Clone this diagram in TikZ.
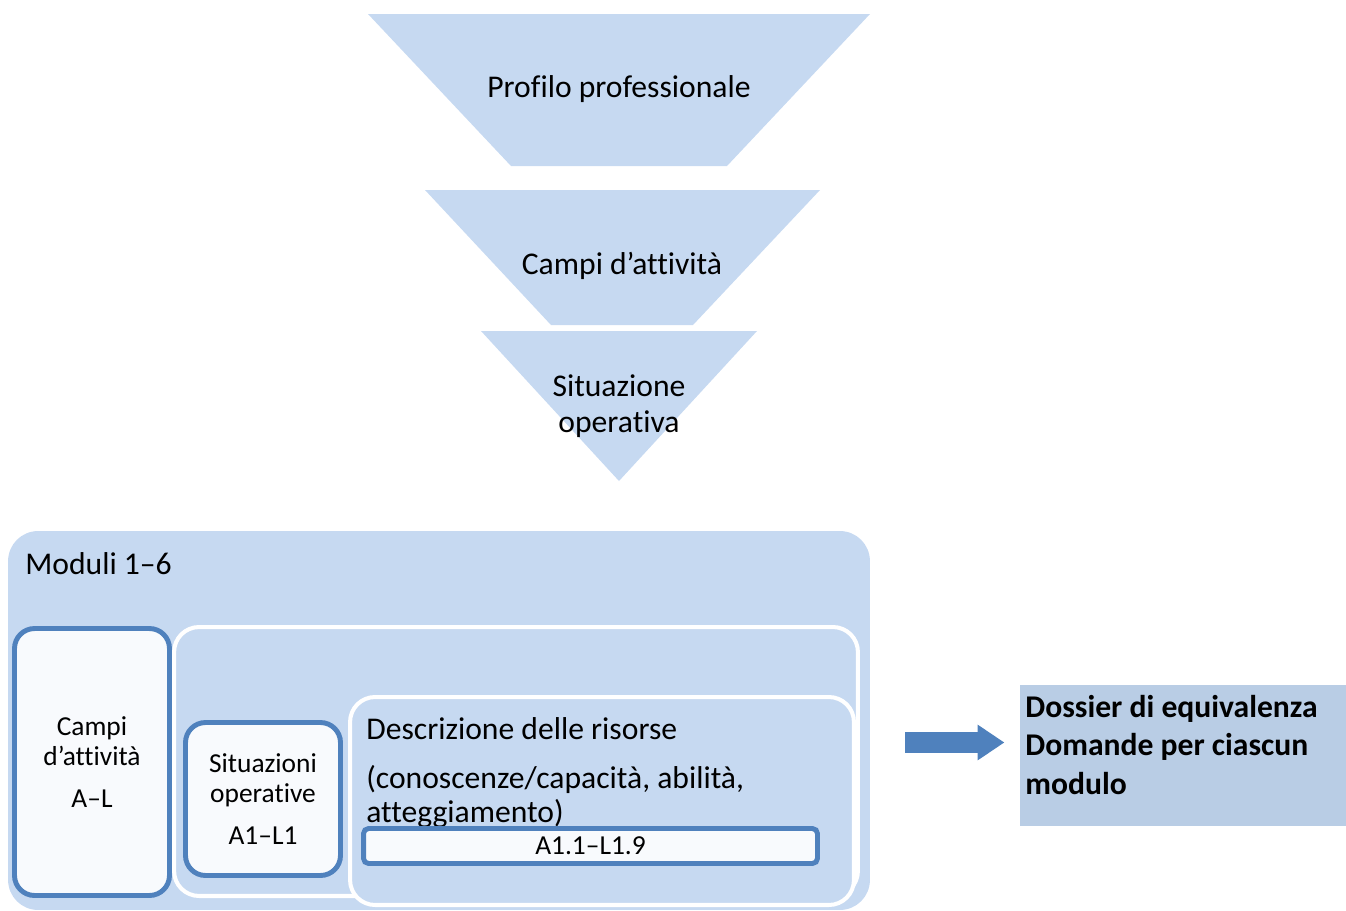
\documentclass[tikz,border=0pt]{standalone}
\usepackage{fontspec}
\setmainfont{Carlito}[Ligatures={TeX,NoCommon}]
\usepackage{tikz}
\usetikzlibrary{shapes.arrows}
\definecolor{paleblue}{HTML}{C6D9F1}
\definecolor{darkpale}{HTML}{B9CDE5}
\definecolor{edgeblue}{HTML}{4F81BD}
\definecolor{nearwhite}{HTML}{F8FAFD}
\tikzset{funnel/.style = {fill=paleblue}}
\tikzset{bigtext/.style = {font=\fontsize{18}{22}\selectfont, inner sep=0pt}}
\tikzset{bluebox/.style = {shape=rectangle, draw=edgeblue, line width=2.8pt, fill=nearwhite, rounded corners=0.4cm, align=center, font=\fontsize{15.6}{17}\selectfont}}
\tikzset{whitebox/.style = {shape=rectangle, draw=white, line width=2.3pt, fill=paleblue, rounded corners=0.5cm}}

\begin{document}
\begin{tikzpicture}[x=0.02cm, y=-0.02cm]
                \useasboundingbox (0,0) rectangle (1346,910);

                \fill[funnel] (368,14) -- (870,14) -- (727,166) -- (511,166) -- cycle;
                \fill[funnel] (425,190) -- (820,190) -- (693,325) -- (551,325) -- cycle;
                \fill[funnel] (481,331) -- (757,331) -- (619,481) -- cycle;
                \node[bigtext] (P) at (619,89) {Profilo professionale};
                \node[bigtext] (C) at (622,266) {Campi d’attività};
                \node[bigtext, align=center, font=\fontsize{18}{20.5}\selectfont] (S) at (619,406) {Situazione\\operativa};

                \node[shape=rectangle, fill=paleblue, rounded corners=0.6cm, minimum width=17.24cm, minimum height=7.58cm] (M) at (439,720.5) {};
                \node[bigtext, anchor=west] (Mt) at (25,564) {Moduli 1–6};
                \node[whitebox, minimum width=13.68cm, minimum height=5.38cm] (W) at (516,761.5) {};
                \node[bluebox, minimum width=3.1cm, minimum height=5.34cm] (CA) at (92,762) {Campi\\d’attività\\[7pt]A–L};
                \node[whitebox, minimum width=10.08cm, minimum height=4.16cm] (R) at (602,801) {};
                \node[bluebox, minimum width=3.1cm, minimum height=3.06cm] (SO) at (263,799) {Situazioni\\operative\\[7pt]A1–L1};
                \node[bigtext, anchor=west] (Rt) at (366,729) {Descrizione delle risorse};
                \node[bigtext, anchor=west, align=left, font=\fontsize{18}{19.5}\selectfont] (Rs) at (366,797) {(conoscenze/capacità, abilità,\\atteggiamento)};
                \node[bluebox, rounded corners=0.1cm, inner sep=0pt, minimum width=9.08cm, minimum height=0.7cm] (A) at (590.5,846) {A1.1–L1.9};

                \node[single arrow, fill=edgeblue, inner sep=0.2cm, minimum height=1.98cm, single arrow head extend=0.15cm, single arrow tip angle=68] (F) at (947,742.5) {};

                \node[shape=rectangle, fill=darkpale, minimum width=6.52cm, minimum height=2.82cm] (D) at (1183,755.5) {};
                \node[bigtext, anchor=west, align=left, font=\fontsize{18}{22}\selectfont\bfseries] (Dt) at (1025,745) {Dossier di equivalenza\\Domande per ciascun\\modulo};
            \end{tikzpicture}
\end{document}
